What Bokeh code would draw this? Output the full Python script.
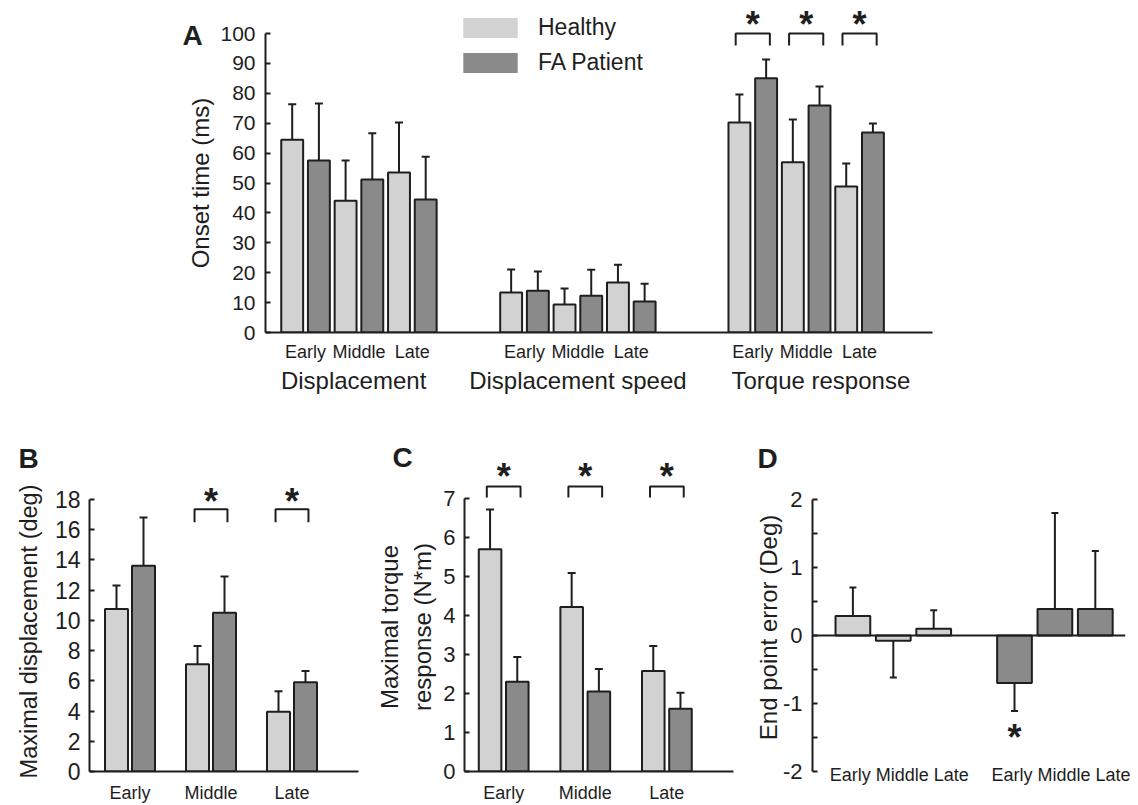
from bokeh.plotting import figure
from bokeh.models import (Range1d, FixedTicker, Whisker, TeeHead, Label, Legend,
                          LegendItem, ColumnDataSource, Span, LinearAxis)
from bokeh.layouts import column, row
from bokeh.embed import file_html
from bokeh.resources import INLINE

# ---------------- data ----------------
stages = ["Early", "Middle", "Late"]
series_names = ["Healthy", "FA Patient"]

a_groups = ["Displacement", "Displacement speed", "Torque response"]
a_healthy = [64.5, 44.1, 53.5, 13.4, 9.4, 16.7, 70.2, 56.9, 48.8]
a_healthy_sd = [11.8, 13.4, 16.7, 7.7, 5.3, 6.0, 9.4, 14.3, 7.7]
a_patient = [57.5, 51.2, 44.5, 14.0, 12.3, 10.4, 85.0, 75.9, 66.9]
a_patient_sd = [19.1, 15.4, 14.3, 6.4, 8.7, 5.9, 6.3, 6.4, 3.0]
a_sig = [False, False, False, False, False, False, True, True, True]
a_yticks = [0, 10, 20, 30, 40, 50, 60, 70, 80, 90, 100]
a_ylabel = "Onset time (ms)"

b_healthy = [10.75, 7.1, 3.95]
b_healthy_sd = [1.55, 1.2, 1.35]
b_patient = [13.6, 10.5, 5.9]
b_patient_sd = [3.2, 2.4, 0.75]
b_sig = [False, True, True]
b_yticks = [0, 2, 4, 6, 8, 10, 12, 14, 16, 18]
b_ylabel = "Maximal displacement (deg)"

c_healthy = [5.7, 4.22, 2.58]
c_healthy_sd = [1.02, 0.87, 0.64]
c_patient = [2.3, 2.05, 1.61]
c_patient_sd = [0.64, 0.58, 0.41]
c_sig = [True, True, True]
c_yticks = [0, 1, 2, 3, 4, 5, 6, 7]
c_ylabel = "Maximal torque\nresponse (N*m)"

d_healthy = [0.285, -0.08, 0.1]
d_healthy_sd = [0.42, 0.54, 0.27]
d_patient = [-0.7, 0.39, 0.39]
d_patient_sd = [0.41, 1.41, 0.85]
d_sig_patient = [True, False, False]
d_yticks = [-2, -1, 0, 1, 2]
d_yminor = [-1.5, -0.5, 0.5, 1.5]
d_ylabel = "End point error (Deg)"

# ---------------- style ----------------
LIGHT = "#d2d2d2"
DARK = "#8a8a8a"
INK = "#1e1e1e"
FONT = "Liberation Sans"
STAR_SIZE = "36px"
STAR_DROP = 6  # px between visual centre of the star and the label anchor


def make_panel(width, height, ox, oy, fl, fr, ft, fb, x0, sx, y0, sy):
    x1 = x0 + (fr - fl) / sx
    y1 = y0 + (fb - ft) / sy
    p = figure(width=width, height=height, x_range=Range1d(x0, x1), y_range=Range1d(y0, y1),
               min_border_left=fl - ox, min_border_right=ox + width - fr,
               min_border_top=ft - oy, min_border_bottom=oy + height - fb,
               output_backend="svg", toolbar_location=None)
    p.outline_line_color = None
    p.grid.visible = False

    def conv(ax, ay):
        return x0 + (ax - fl) / sx, y0 + (fb - ay) / sy
    return p, conv, sy


def style_yaxis(p, ticks, bounds, tick_size, standoff):
    ax = p.yaxis[0]
    ax.ticker = FixedTicker(ticks=ticks)
    ax.bounds = bounds
    ax.axis_line_width = 2
    ax.axis_line_color = INK
    ax.major_tick_in = 5
    ax.major_tick_out = 0
    ax.major_tick_line_width = 2
    ax.major_tick_line_color = INK
    ax.minor_tick_line_color = None
    ax.major_label_text_font = FONT
    ax.major_label_text_font_size = tick_size
    ax.major_label_text_color = INK
    ax.major_label_standoff = standoff


def style_xaxis(ax, ticks, names, size, standoff, line=True):
    ax.ticker = FixedTicker(ticks=ticks)
    ax.major_label_overrides = {t: n for t, n in zip(ticks, names)}
    ax.axis_line_width = 2
    ax.axis_line_color = INK if line else None
    ax.major_tick_line_color = None
    ax.minor_tick_line_color = None
    ax.major_label_text_font = FONT
    ax.major_label_text_font_size = size
    ax.major_label_text_color = INK
    ax.major_label_standoff = standoff


def add_bars(p, xs, vals, sds, color, width, cap):
    src = ColumnDataSource(dict(x=xs, top=vals,
                                end=[v + (s if v >= 0 else -s) for v, s in zip(vals, sds)]))
    w = Whisker(source=src, base="x", lower="top", upper="end", dimension="height",
                line_color=INK, line_width=2, lower_head=None,
                upper_head=TeeHead(size=cap, line_color=INK, line_width=2))
    p.add_layout(w)
    return p.vbar(x="x", top="top", bottom=0, width=width, source=src,
                  fill_color=color, line_color=INK, line_width=2)


def add_star(p, x, y):
    p.add_layout(Label(x=x, y=y, text="*", text_font=FONT, text_font_size=STAR_SIZE,
                       text_font_style="bold", text_color=INK, text_align="center",
                       text_baseline="alphabetic"))


def add_brackets(p, centers, sig, top, drop, half, star_y):
    xs, ys, sx = [], [], []
    for c, s in zip(centers, sig):
        if s:
            xs.append([c - half, c - half, c + half, c + half])
            ys.append([top - drop, top, top, top - drop])
            sx.append(c)
    if xs:
        p.multi_line(xs=xs, ys=ys, line_color=INK, line_width=2)
    for c in sx:
        add_star(p, c, star_y)


def add_text(p, x, y, text, size, align="center", bold=False, baseline="middle",
             side=None, angle=0):
    lab = Label(x=x, y=y, text=text, text_font=FONT, text_font_size=size,
                text_font_style="bold" if bold else "normal", text_color=INK,
                text_align=align, text_baseline=baseline, angle=angle, angle_units="deg")
    if side is None:
        p.add_layout(lab)
    else:
        p.add_layout(lab, side)


# ================= Panel A =================
pa, ca, sya = make_panel(1138, 420, 0, 0, 265, 932, 5, 332, 0, 26.7, 0, 2.99)
group_start = [1.0, 9.2, 17.75]
a_xh = [g + 2 * k for g in group_start for k in range(3)]
a_xp = [x + 1 for x in a_xh]
a_centers = [x + 0.5 for x in a_xh]
style_yaxis(pa, a_yticks, (0, 100), "21px", 10)
style_xaxis(pa.xaxis[0], a_centers, stages * 3, "18px", 3)
a_label_shift = [-0.2, 0.0, 0.55]
gaxis = LinearAxis()
style_xaxis(gaxis, [g + 2.5 + sh for g, sh in zip(group_start, a_label_shift)], a_groups,
            "24px", -4, line=False)
pa.add_layout(gaxis, "below")
add_bars(pa, a_xh, a_healthy, a_healthy_sd, LIGHT, 0.82, 8)
add_bars(pa, a_xp, a_patient, a_patient_sd, DARK, 0.82, 8)
a_top = 100
add_brackets(pa, a_centers, a_sig, a_top, 12 / sya, 0.64, a_top + (15 - STAR_DROP) / sya)
x_, y_ = ca(200, 182.5)
add_text(pa, x_, y_, a_ylabel, "24px", side="left", angle=90)
lx, ly = ca(182, 35)
add_text(pa, lx, ly, "A", "28px", align="left", bold=True, baseline="alphabetic", side="left")

# legend (hidden proxies carrying the two series styles)
rh = pa.vbar(x=a_xh, top=a_healthy, width=0.82, fill_color=LIGHT, line_color=None, visible=False)
rp = pa.vbar(x=a_xp, top=a_patient, width=0.82, fill_color=DARK, line_color=None, visible=False)
leg = Legend(items=[LegendItem(label=series_names[0], renderers=[rh]),
                    LegendItem(label=series_names[1], renderers=[rp])],
             location=(191, 256), orientation="vertical",
             glyph_width=68, glyph_height=25, label_height=25, spacing=8,
             label_standoff=14, padding=0, margin=0,
             border_line_color=None, background_fill_alpha=0, inactive_fill_alpha=0,
             label_text_font=FONT, label_text_font_size="23px", label_text_color=INK)
pa.add_layout(leg)

# ================= bottom row (frames share top 455 / bottom 772) =================
FT, FB = 455, 772

# ---- Panel B ----
pb, cb, syb = make_panel(370, 385, 0, 420, 89, 358, FT, FB, 0, 27, 0, 15.17)
b_xh = [1, 4, 7]
b_xp = [x + 1 for x in b_xh]
b_centers = [x + 0.5 for x in b_xh]
style_yaxis(pb, b_yticks, (0, 18), "23px", 9)
style_xaxis(pb.xaxis[0], b_centers, stages, "18px", 5)
add_bars(pb, b_xh, b_healthy, b_healthy_sd, LIGHT, 0.85, 8)
add_bars(pb, b_xp, b_patient, b_patient_sd, DARK, 0.85, 8)
b_top = 17.34
add_brackets(pb, b_centers, b_sig, b_top, 13 / syb, 0.61, b_top + (14 - STAR_DROP) / syb)
x_, y_ = cb(28, 631.5)
add_text(pb, x_, y_, b_ylabel, "23.5px", side="left", angle=90)
lx, ly = cb(18, 458)
add_text(pb, lx, ly, "B", "28px", align="left", bold=True, baseline="alphabetic", side="above")

# ---- Panel C ----
pc, cc, syc = make_panel(380, 385, 370, 420, 464, 733, FT, FB, 0.06, 27.2, 0, 39.1)
c_xh = [1, 4, 7]
c_xp = [x + 1 for x in c_xh]
c_centers = [x + 0.5 for x in c_xh]
style_yaxis(pc, c_yticks, (0, 7), "22px", 9)
style_xaxis(pc.xaxis[0], c_centers, stages, "18px", 5)
add_bars(pc, c_xh, c_healthy, c_healthy_sd, LIGHT, 0.83, 8)
add_bars(pc, c_xp, c_patient, c_patient_sd, DARK, 0.83, 8)
c_top = 7.31
add_brackets(pc, c_centers, c_sig, c_top, 11 / syc, 0.62, c_top + (16 - STAR_DROP) / syc)
x_, y_ = cc(405.5, 627)
add_text(pc, x_, y_, c_ylabel, "24px", side="left", angle=90)
lx, ly = cc(392, 457)
add_text(pc, lx, ly, "C", "28px", align="left", bold=True, baseline="alphabetic", side="above")

# ---- Panel D ----
pd_, cd, syd = make_panel(388, 385, 750, 420, 812, 1125, FT, FB, 0, 40.4, -2, 68.25)
d_xh = [1, 2, 3]
d_xp = [5, 6, 7]
style_yaxis(pd_, d_yticks, (-2, 2), "22px", 10)
yd = pd_.yaxis[0]
yd.ticker = FixedTicker(ticks=d_yticks, minor_ticks=d_yminor)
yd.major_label_overrides = {t: str(t) for t in d_yticks}
yd.minor_tick_line_color = INK
yd.minor_tick_line_width = 2
yd.minor_tick_in = 5
yd.minor_tick_out = 0
style_xaxis(pd_.xaxis[0], [d_xh[1] + 0.15, d_xp[1] + 0.15], [" ".join(stages)] * 2,
            "18px", -13, line=False)
pd_.add_layout(Span(location=0, dimension="width", line_color=INK, line_width=2))
add_bars(pd_, d_xh, d_healthy, d_healthy_sd, LIGHT, 0.86, 7)
add_bars(pd_, d_xp, d_patient, d_patient_sd, DARK, 0.86, 7)
for x, v, s, sg in zip(d_xp, d_patient, d_patient_sd, d_sig_patient):
    if sg:
        add_star(pd_, x, v - s - (21 + STAR_DROP) / syd)
x_, y_ = cd(768, 627.5)
add_text(pd_, x_, y_, d_ylabel, "24px", side="left", angle=90)
lx, ly = cd(757, 458)
add_text(pd_, lx, ly, "D", "28px", align="left", bold=True, baseline="alphabetic", side="above")

layout = column(pa, row(pb, pc, pd_))
open("out.html", "w").write(file_html(layout, INLINE))
